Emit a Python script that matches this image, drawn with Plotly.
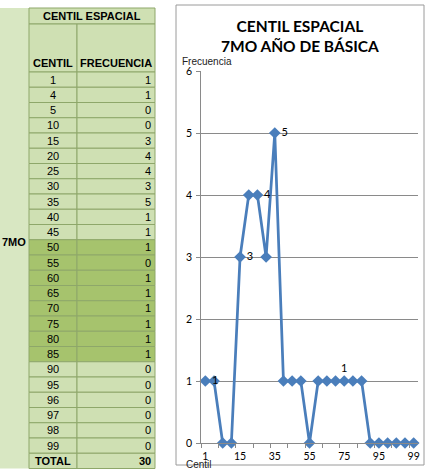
import plotly.graph_objects as go

# ---------------- data ----------------
centil = ["1", "4", "5", "10", "15", "20", "25", "30", "35", "40", "45", "50", "55",
          "60", "65", "70", "75", "80", "85", "90", "95", "96", "97", "98", "99"]
frecuencia = [1, 1, 0, 0, 3, 4, 4, 3, 5, 1, 1, 1, 0, 1, 1, 1, 1, 1, 1, 0, 0, 0, 0, 0, 0]
y_ticks = [0, 1, 2, 3, 4, 5, 6]
total_label = "TOTAL"
total_value = 30
group_label = "7MO"
table_title = "CENTIL ESPACIAL"
col_headers = ["CENTIL", "FRECUENCIA"]
highlight = ["50", "55", "60", "65", "70", "75", "80", "85"]
labeled = {"1": "middle right", "15": "middle right", "25": "middle right",
           "35": "middle right", "75": "top center"}
chart_title = "CENTIL ESPACIAL<br>7MO AÑO DE BÁSICA"
y_title = "Frecuencia"
x_title = "Centil"

W, H = 427, 473


def px(x):
    return x / W


def py(y):
    return 1 - y / H


shapes = []
annotations = []


def note(text, x, y, font, xanchor="center"):
    annotations.append(dict(text=text, x=px(x), y=py(y), xref="paper", yref="paper",
                            xanchor=xanchor, yanchor="middle", showarrow=False, font=font))


# ---------------- table (left) ----------------
LIGHT = "#cfe0b3"
SIDE = "#d8e7c2"
DARK = "#a6c36d"
BORDER = "#8ea76a"
X0, X1, X2, X3 = 0, 29, 77, 155
TOP, HDR1, HDR2 = 8, 24, 72
RH = 15.25
tfont = dict(family="Liberation Sans, Arial", size=11, color="black")

nrows = len(centil) + 1
bottom = HDR2 + nrows * RH
# merged group column
shapes.append(dict(type="rect", xref="paper", yref="paper", x0=px(X0), x1=px(X1),
                   y0=py(bottom), y1=py(TOP), fillcolor=SIDE, line=dict(width=0), layer="below"))
note("<b>" + group_label + "</b>", 14, 242, tfont)
# header rows
shapes.append(dict(type="rect", xref="paper", yref="paper", x0=px(X1), x1=px(X3),
                   y0=py(HDR1), y1=py(TOP), fillcolor=LIGHT, line=dict(color=BORDER, width=1),
                   layer="below"))
note("<b>" + table_title + "</b>", (X1 + X3) / 2, 16, tfont)
for (a, b), lab in zip([(X1, X2), (X2, X3)], col_headers):
    shapes.append(dict(type="rect", xref="paper", yref="paper", x0=px(a), x1=px(b),
                       y0=py(HDR2), y1=py(HDR1), fillcolor=LIGHT,
                       line=dict(color=BORDER, width=1), layer="below"))
    note("<b>" + lab + "</b>", (a + b) / 2, 63, tfont)

rows = list(zip(centil, frecuencia)) + [(total_label, total_value)]
for i, (c, f) in enumerate(rows):
    y0 = HDR2 + i * RH
    y1 = y0 + RH
    fill = DARK if c in highlight else LIGHT
    for a, b in [(X1, X2), (X2, X3)]:
        shapes.append(dict(type="rect", xref="paper", yref="paper", x0=px(a), x1=px(b),
                           y0=py(y1), y1=py(y0), fillcolor=fill,
                           line=dict(color=BORDER, width=1), layer="below"))
    is_total = c == total_label
    ctext = "<b>" + c + "</b>" if is_total else c
    ftext = "<b>" + str(f) + "</b>" if is_total else str(f)
    note(ctext, (X1 + X2) / 2, (y0 + y1) / 2, tfont)
    note(ftext, X3 - 2, (y0 + y1) / 2, tfont, xanchor="right")

# ---------------- chart box (outline only; page is white) ----------------
shapes.append(dict(type="rect", xref="paper", yref="paper", x0=px(176), x1=px(424),
                   y0=py(465), y1=py(5), fillcolor="rgba(0,0,0,0)",
                   line=dict(color="#9a9a9a", width=1), layer="above"))

note("<b>" + chart_title + "</b>", 300, 36, dict(family="Lato", size=15.5, color="black"))
note(y_title, 180, 61, dict(family="Liberation Sans, Arial", size=10, color="#222"),
     xanchor="left")
note(x_title, 199, 464, dict(family="Liberation Sans, Arial", size=10, color="#222"))

# y tick labels placed on the y scale
for v in y_ticks:
    annotations.append(dict(text=str(v), x=px(194), y=v, xref="paper", yref="y",
                            xanchor="right", yanchor="middle", showarrow=False,
                            font=dict(family="Lato", size=10.5, color="black")))

texts = [str(f) if c in labeled else "" for c, f in zip(centil, frecuencia)]
tpos = [labeled.get(c, "middle right") for c in centil]

fig = go.Figure()
fig.add_trace(go.Scatter(
    x=centil, y=frecuencia, mode="lines+markers+text",
    text=texts, textposition=tpos,
    textfont=dict(family="Lato", size=11, color="black"),
    line=dict(color="#4a7ebb", width=2.75),
    marker=dict(symbol="diamond", size=9, color="#4a7ebb"),
    cliponaxis=False, showlegend=False,
))

grid = "#8a8a8a"
fig.update_layout(
    width=W, height=H,
    margin=dict(l=0, r=0, t=0, b=0, autoexpand=False),
    paper_bgcolor="white", plot_bgcolor="white",
    shapes=shapes, annotations=annotations,
    xaxis=dict(type="category", domain=[px(201), px(418)], range=[-0.5, len(centil) - 0.5],
               showline=True, linecolor=grid, ticks="outside", ticklen=4, tickcolor=grid,
               tickson="boundaries", ticklabelstep=2, showgrid=False, zeroline=False,
               tickangle=0, automargin=False, ticklabeloverflow="allow",
               ticklabelstandoff=3,
               tickfont=dict(family="Lato", size=10.5, color="black")),
    yaxis=dict(domain=[py(443), py(71)], range=[0, 6], tickvals=y_ticks,
               showline=True, showticklabels=False,
               linecolor=grid, ticks="outside", ticklen=4, tickcolor=grid, showgrid=True,
               gridcolor=grid, gridwidth=1, zeroline=False, automargin=False),
)

fig.write_html("out.html")
